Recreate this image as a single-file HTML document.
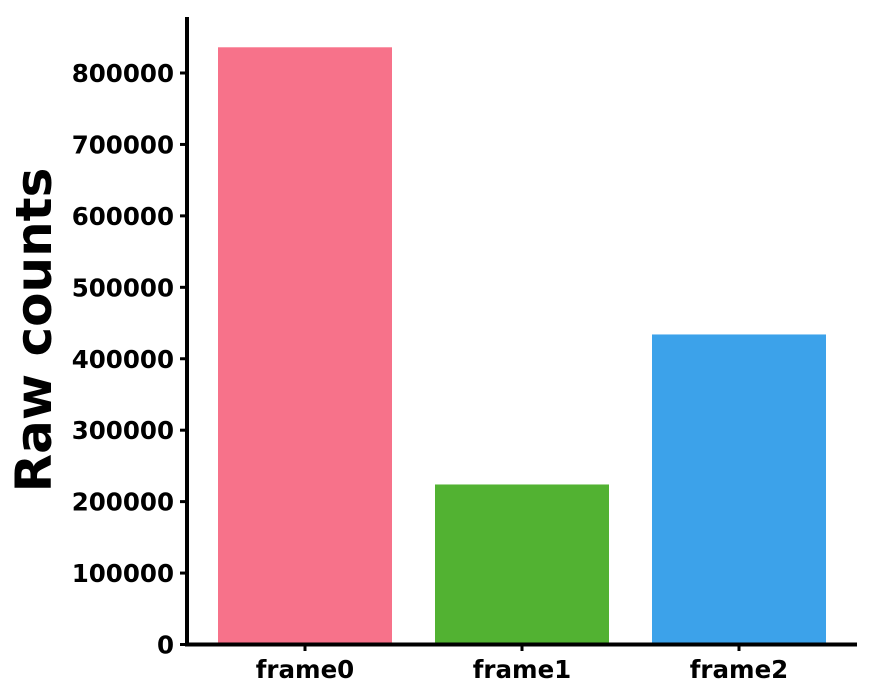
<!DOCTYPE html>
<html><head><meta charset="utf-8"><style>
html,body{margin:0;padding:0;background:#fff}
svg{display:block}
text{font-family:"DejaVu Sans","Liberation Sans",sans-serif;font-weight:bold;fill:#000}
</style></head><body>
<svg id="chart" width="875" height="696">
<g id="bars"></g>
<g id="yticks"></g>
<g id="xticks"></g>
<line x1="187" y1="17" x2="187" y2="646.5" stroke="#000" stroke-width="4"/>
<line x1="185" y1="644.5" x2="857" y2="644.5" stroke="#000" stroke-width="4"/>
<text x="51" y="330" font-size="50" text-anchor="middle" transform="rotate(-90 51 330)">Raw counts</text>
</svg>
<script>
const categories=["frame0","frame1","frame2"];
const values=[836000,224000,434000];
const colors=["#f7728a","#52b232","#3ca2ea"];
const yTickValues=[0,100000,200000,300000,400000,500000,600000,700000,800000];
const NS="http://www.w3.org/2000/svg";
function y(v){return 644.5-v*(571.5/800000);}
function x(i){return 305+217*i;}
const bw=174;
const bars=document.getElementById('bars'),yt=document.getElementById('yticks'),xt=document.getElementById('xticks');
values.forEach((v,i)=>{
 const r=document.createElementNS(NS,'rect');
 r.setAttribute('x',x(i)-bw/2);r.setAttribute('y',y(v));r.setAttribute('width',bw);r.setAttribute('height',y(0)-y(v));r.setAttribute('fill',colors[i]);
 
 
 bars.appendChild(r);
 const l=document.createElementNS(NS,'line');
 l.setAttribute('x1',x(i));l.setAttribute('x2',x(i));l.setAttribute('y1',644);l.setAttribute('y2',651);l.setAttribute('stroke','#000');l.setAttribute('stroke-width','3');
 
 
 xt.appendChild(l);
 const t=document.createElementNS(NS,'text');
 t.setAttribute('x',x(i));t.setAttribute('y',678);t.setAttribute('font-size','24.5');t.setAttribute('text-anchor','middle');t.textContent=categories[i];
 
 
 xt.appendChild(t);
});
yTickValues.forEach(v=>{
 const l=document.createElementNS(NS,'line');
 l.setAttribute('x1',180);l.setAttribute('x2',188);l.setAttribute('y1',y(v));l.setAttribute('y2',y(v));l.setAttribute('stroke','#000');l.setAttribute('stroke-width','3');
 
 
 yt.appendChild(l);
 const t=document.createElementNS(NS,'text');
 t.setAttribute('x',174);t.setAttribute('y',y(v)+9);t.setAttribute('font-size','24.5');t.setAttribute('text-anchor','end');t.textContent=String(v);
 
 
 yt.appendChild(t);
});
</script>
</body></html>
